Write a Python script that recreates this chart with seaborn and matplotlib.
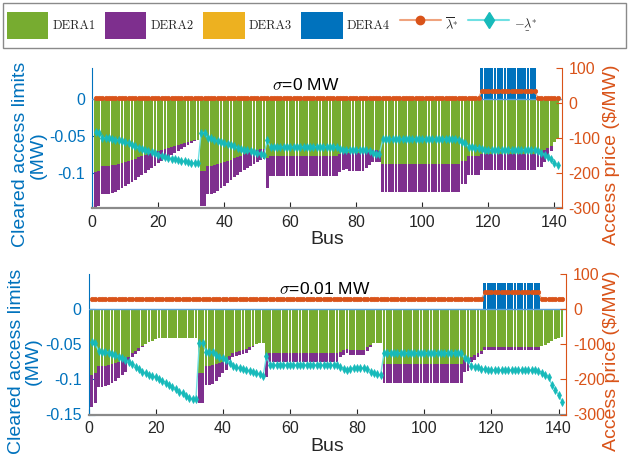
import numpy as np
import matplotlib
matplotlib.use('Agg')
import matplotlib.pyplot as plt
from matplotlib.lines import Line2D
from matplotlib.patches import Patch, Rectangle
import seaborn as sns

# bus numbers of the 141-bus feeder
bus = list(range(1, 142))

# ---- sigma = 0 MW (upper panel) ----
dera1_s0 = [
    -0.0995, -0.0973, -0.0914, -0.0909, -0.0905, -0.0900, -0.0891, -0.0878, -0.0864, -0.0850,
    -0.0837, -0.0823, -0.0810, -0.0791, -0.0778, -0.0764, -0.0746, -0.0732, -0.0719, -0.0705,
    -0.0692, -0.0678, -0.0664, -0.0651, -0.0637, -0.0624, -0.0610, -0.0596, -0.0583, -0.0569,
    -0.0560, -0.0556, -0.0982, -0.0973, -0.0909, -0.0905, -0.0896, -0.0882, -0.0868, -0.0855,
    -0.0837, -0.0823, -0.0805, -0.0787, -0.0769, -0.0751, -0.0732, -0.0714, -0.0701, -0.0692,
    -0.0682, -0.0678, -0.0800, -0.0769, -0.0769, -0.0769, -0.0769, -0.0769, -0.0769, -0.0769,
    -0.0769, -0.0769, -0.0769, -0.0769, -0.0769, -0.0769, -0.0769, -0.0769, -0.0769, -0.0769,
    -0.0769, -0.0769, -0.0769, -0.0769, -0.0746, -0.0737, -0.0732, -0.0737, -0.0737, -0.0737,
    -0.0737, -0.0737, -0.0723, -0.0701, -0.0692, -0.0692, -0.0701, -0.0885, -0.0885, -0.0885,
    -0.0885, -0.0885, -0.0885, -0.0885, -0.0885, -0.0885, -0.0885, -0.0885, -0.0885, -0.0885,
    -0.0885, -0.0885, -0.0885, -0.0885, -0.0885, -0.0885, -0.0885, -0.0885, -0.0885, -0.0885,
    -0.0885, -0.0837, -0.0837, -0.0778, -0.0778, -0.0778, -0.0778, -0.0746, -0.0746, -0.0746,
    -0.0746, -0.0746, -0.0746, -0.0746, -0.0746, -0.0746, -0.0746, -0.0746, -0.0746, -0.0746,
    -0.0746, -0.0746, -0.0746, -0.0746, -0.0723, -0.0710, -0.0692, -0.0664, -0.0633, -0.0588,
    -0.0542]
dera2_s0 = [
    -0.0499, -0.0476, -0.0376, -0.0381, -0.0381, -0.0381, -0.0367, -0.0358, -0.0345, -0.0331,
    -0.0317, -0.0304, -0.0285, -0.0272, -0.0254, -0.0236, -0.0222, -0.0205, -0.0186, -0.0168,
    -0.0149, -0.0136, -0.0123, -0.0109, -0.0095, -0.0081, -0.0068, -0.0055, -0.0041, -0.0027,
    -0.0014, -0.0004, -0.0467, -0.0476, -0.0381, -0.0385, -0.0385, -0.0372, -0.0341, -0.0322,
    -0.0308, -0.0277, -0.0258, -0.0240, -0.0226, -0.0213, -0.0205, -0.0200, -0.0181, -0.0158,
    -0.0150, -0.0136, -0.0409, -0.0272, -0.0272, -0.0272, -0.0272, -0.0272, -0.0272, -0.0272,
    -0.0272, -0.0272, -0.0272, -0.0272, -0.0272, -0.0272, -0.0272, -0.0272, -0.0272, -0.0272,
    -0.0272, -0.0272, -0.0272, -0.0272, -0.0249, -0.0227, -0.0218, -0.0236, -0.0236, -0.0236,
    -0.0236, -0.0236, -0.0214, -0.0190, -0.0167, -0.0167, -0.0158, -0.0375, -0.0375, -0.0375,
    -0.0375, -0.0375, -0.0375, -0.0375, -0.0375, -0.0375, -0.0375, -0.0375, -0.0375, -0.0375,
    -0.0375, -0.0375, -0.0375, -0.0375, -0.0375, -0.0375, -0.0375, -0.0375, -0.0375, -0.0375,
    -0.0375, -0.0323, -0.0323, -0.0253, -0.0253, -0.0253, -0.0253, -0.0217, -0.0217, -0.0217,
    -0.0217, -0.0217, -0.0217, -0.0217, -0.0217, -0.0217, -0.0217, -0.0217, -0.0217, -0.0217,
    -0.0217, -0.0217, -0.0217, -0.0217, -0.0195, -0.0208, -0.0167, -0.0127, -0.0077, 0.0,
    0.0]
dera4_s0 = [0.0] * 117 + [0.045] * 17 + [0.0] * 7
lam_up_s0 = [15] * 117 + [35] * 17 + [15] * 7
lam_dn_s0 = [
    -81.6, -84.4, -100.4, -100.4, -101.3, -103.2, -105.1, -107.0, -109.8, -111.6,
    -114.5, -119.2, -123.9, -127.6, -131.4, -135.1, -137.9, -140.8, -143.6, -147.3,
    -150.2, -153.0, -155.8, -158.6, -161.4, -163.3, -165.2, -167.1, -168.9, -170.8,
    -171.7, -171.7, -84.4, -84.4, -100.4, -101.3, -105.1, -109.8, -111.6, -114.5,
    -116.3, -119.2, -123.9, -128.5, -131.4, -133.3, -135.1, -137.9, -140.8, -142.7,
    -144.5, -147.3, -107.0, -125.7, -125.7, -125.7, -125.7, -125.7, -125.7, -125.7,
    -125.7, -125.7, -125.7, -125.7, -125.7, -125.7, -125.7, -125.7, -125.7, -125.7,
    -125.7, -125.7, -125.7, -125.7, -131.4, -134.2, -134.2, -134.2, -134.2, -134.2,
    -134.2, -134.2, -134.2, -137.9, -142.7, -144.5, -144.5, -104.0, -104.0, -104.0,
    -104.0, -104.0, -104.0, -104.0, -104.0, -104.0, -104.0, -104.0, -104.0, -104.0,
    -104.0, -104.0, -104.0, -104.0, -104.0, -104.0, -104.0, -104.0, -104.0, -104.0,
    -105.1, -112.6, -114.5, -125.7, -126.7, -127.6, -128.5, -131.4, -133.3, -133.3,
    -133.3, -133.3, -133.3, -133.3, -133.3, -133.3, -133.3, -133.3, -133.3, -133.3,
    -133.3, -133.3, -133.3, -135.1, -137.9, -142.7, -147.3, -153.9, -159.5, -172.6,
    -178.3]

# ---- sigma = 0.01 MW (lower panel) ----
dera1_s1 = [
    -0.0937, -0.0914, -0.0810, -0.0810, -0.0805, -0.0795, -0.0781, -0.0762, -0.0748, -0.0734,
    -0.0715, -0.0677, -0.0630, -0.0592, -0.0559, -0.0525, -0.0497, -0.0473, -0.0450, -0.0431,
    -0.0417, -0.0417, -0.0417, -0.0417, -0.0417, -0.0417, -0.0417, -0.0417, -0.0417, -0.0417,
    -0.0417, -0.0417, -0.0914, -0.0914, -0.0810, -0.0805, -0.0795, -0.0781, -0.0772, -0.0748,
    -0.0724, -0.0667, -0.0630, -0.0611, -0.0596, -0.0582, -0.0568, -0.0544, -0.0525, -0.0502,
    -0.0487, -0.0478, -0.0653, -0.0630, -0.0630, -0.0630, -0.0630, -0.0630, -0.0630, -0.0630,
    -0.0630, -0.0630, -0.0630, -0.0630, -0.0630, -0.0630, -0.0630, -0.0630, -0.0630, -0.0630,
    -0.0630, -0.0630, -0.0630, -0.0630, -0.0606, -0.0582, -0.0573, -0.0582, -0.0582, -0.0582,
    -0.0582, -0.0582, -0.0544, -0.0516, -0.0487, -0.0487, -0.0487, -0.0781, -0.0781, -0.0781,
    -0.0781, -0.0781, -0.0781, -0.0781, -0.0781, -0.0781, -0.0781, -0.0781, -0.0781, -0.0781,
    -0.0781, -0.0781, -0.0781, -0.0781, -0.0781, -0.0781, -0.0781, -0.0781, -0.0781, -0.0781,
    -0.0781, -0.0724, -0.0715, -0.0677, -0.0653, -0.0620, -0.0592, -0.0544, -0.0544, -0.0544,
    -0.0544, -0.0544, -0.0544, -0.0544, -0.0544, -0.0544, -0.0544, -0.0544, -0.0544, -0.0544,
    -0.0544, -0.0544, -0.0544, -0.0544, -0.0526, -0.0511, -0.0487, -0.0450, -0.0426, -0.0407,
    -0.0402]
dera2_s1 = [
    -0.0460, -0.0416, -0.0303, -0.0293, -0.0289, -0.0284, -0.0275, -0.0256, -0.0237, -0.0203,
    -0.0175, -0.0057, -0.0056, -0.0047, -0.0033, -0.0019, 0.0, 0.0, 0.0, 0.0,
    0.0, 0.0, 0.0, 0.0, 0.0, 0.0, 0.0, 0.0, 0.0, 0.0,
    0.0, 0.0, -0.0416, -0.0416, -0.0269, -0.0274, -0.0270, -0.0237, -0.0199, -0.0166,
    -0.0142, -0.0057, -0.0056, -0.0056, -0.0057, -0.0057, -0.0052, -0.0038, -0.0019, 0.0,
    0.0, 0.0, -0.0318, -0.0118, -0.0118, -0.0118, -0.0118, -0.0118, -0.0118, -0.0118,
    -0.0118, -0.0118, -0.0118, -0.0118, -0.0118, -0.0118, -0.0118, -0.0118, -0.0118, -0.0118,
    -0.0118, -0.0118, -0.0118, -0.0118, -0.0071, -0.0071, -0.0057, -0.0071, -0.0071, -0.0071,
    -0.0071, -0.0071, -0.0048, -0.0028, 0.0, 0.0, 0.0, -0.0266, -0.0266, -0.0266,
    -0.0266, -0.0266, -0.0266, -0.0266, -0.0266, -0.0266, -0.0266, -0.0266, -0.0266, -0.0266,
    -0.0266, -0.0266, -0.0266, -0.0266, -0.0266, -0.0266, -0.0266, -0.0266, -0.0266, -0.0266,
    -0.0266, -0.0166, -0.0160, -0.0080, -0.0070, -0.0060, -0.0050, -0.0038, -0.0038, -0.0038,
    -0.0038, -0.0038, -0.0038, -0.0038, -0.0038, -0.0038, -0.0038, -0.0038, -0.0038, -0.0038,
    -0.0038, -0.0038, -0.0038, -0.0038, 0.0, 0.0, 0.0, 0.0, 0.0, 0.0,
    0.0]
dera4_s1 = [0.0] * 117 + [0.037] * 17 + [0.0] * 7
lam_up_s1 = [27.5] * 117 + [47] * 17 + [27.5] * 7
lam_dn_s1 = [
    -92.8, -97.5, -119.3, -121.2, -121.2, -124.0, -127.8, -130.7, -135.4, -140.1,
    -144.9, -149.6, -156.2, -163.8, -170.5, -178.0, -182.8, -187.5, -190.3, -194.1,
    -199.8, -203.6, -209.3, -215.9, -222.5, -228.2, -234.8, -239.6, -247.2, -253.8,
    -254.7, -254.7, -97.5, -97.5, -121.2, -122.1, -123.1, -130.7, -135.4, -140.1,
    -144.9, -154.3, -161.9, -165.7, -168.6, -170.5, -173.3, -175.2, -178.0, -182.8,
    -184.7, -190.3, -133.5, -159.1, -160.0, -160.0, -160.0, -160.0, -160.0, -160.0,
    -160.0, -160.0, -160.0, -160.0, -160.0, -160.0, -160.0, -160.0, -160.0, -160.0,
    -160.0, -160.0, -160.0, -160.0, -165.7, -169.5, -173.3, -169.5, -166.7, -166.7,
    -166.7, -166.7, -171.4, -178.0, -182.8, -184.7, -187.5, -125.0, -125.0, -125.0,
    -125.0, -125.0, -125.0, -125.0, -125.0, -125.0, -125.0, -125.0, -125.0, -125.0,
    -125.0, -125.0, -125.0, -125.0, -125.0, -125.0, -125.0, -125.0, -125.0, -125.0,
    -125.0, -140.1, -145.0, -161.6, -163.6, -165.5, -169.3, -171.2, -173.1, -173.1,
    -173.1, -173.1, -173.1, -173.1, -173.1, -173.1, -173.1, -173.1, -173.1, -173.1,
    -173.1, -173.1, -173.1, -176.0, -180.7, -187.3, -193.9, -215.7, -229.9, -244.1,
    -263.1]

# colours (MATLAB default palette)
green = '#77AC30'
purple = '#7E2F8E'
yellow = '#EDB120'
blue = '#0072BD'
orange = '#D95319'
orange_line = '#EFA37E'
teal = '#17BABA'
teal_line = '#6FE0E3'

sns.set_theme(style='white')
plt.rcParams['font.family'] = ['Liberation Sans', 'DejaVu Sans']
plt.rcParams['mathtext.fontset'] = 'cm'
plt.rcParams['axes.unicode_minus'] = False

W, H = 629, 468
fig = plt.figure(figsize=(W / 100, H / 100), dpi=100)


def px_rect(left, top, right, bottom):
    # pixel box -> figure fraction
    return [left / W, 1 - bottom / H, (right - left) / W, (bottom - top) / H]


def draw_panel(rect, d1, d2, d4, lam_up, lam_dn, ylim_left, yticks_left, sigma_label,
               text_pos, lab_left_x, lab_right_x):
    ax = fig.add_axes(rect)
    total = np.array(d1) + np.array(d2)
    bar_kw = dict(native_scale=True, width=0.85, errorbar=None, saturation=1,
                  linewidth=0, ax=ax)
    # stacked negative bars: purple drawn to the total, green on top of it
    sns.barplot(x=bus, y=total, color=purple, **bar_kw)
    sns.barplot(x=bus, y=d1, color=green, **bar_kw)
    sns.barplot(x=bus, y=d4, color=blue, **bar_kw)
    ax.axhline(0, color='#5AA2DA', lw=1, zorder=3)

    ax.set_xlim(0, 142.2)
    ax.set_ylim(*ylim_left)
    ax.set_xticks(range(0, 141, 20))
    ax.set_yticks(yticks_left, labels=[f'{v:g}' for v in yticks_left])
    ax.tick_params(axis='x', bottom=True, direction='in', length=4, width=0.8,
                   color='#262626', labelcolor='#262626', labelsize=11.5, pad=5)
    ax.tick_params(axis='y', left=True, direction='in', length=4, width=0.8,
                   color=blue, labelcolor=blue, labelsize=11.5, pad=5)
    for s in ['top', 'right']:
        ax.spines[s].set_visible(False)
    ax.spines['left'].set_color(blue)
    ax.spines['left'].set_linewidth(0.8)
    ax.spines['bottom'].set_color('#8a8a8a')
    ax.spines['bottom'].set_linewidth(1.6)
    ax.set_xlabel('Bus', fontsize=14, color='#262626', labelpad=1)
    ax.set_ylabel('Cleared access limits\n(MW)', fontsize=14, color=blue,
                  linespacing=1.0)
    ax.yaxis.set_label_coords(lab_left_x, 0.38)

    ax2 = ax.twinx()
    sns.lineplot(x=bus, y=lam_up, ax=ax2, color=orange_line, lw=1, marker='o',
                 markersize=3.2, markerfacecolor=orange, markeredgecolor=orange,
                 markeredgewidth=0.5, legend=False)
    sns.lineplot(x=bus, y=lam_dn, ax=ax2, color=teal_line, lw=1, marker='d',
                 markersize=4, markerfacecolor=teal, markeredgecolor=teal,
                 markeredgewidth=0.5, legend=False)
    ax2.set_ylim(-300, 100)
    ax2.set_yticks([-300, -200, -100, 0, 100])
    ax2.tick_params(axis='y', right=True, direction='in', length=4, width=0.8,
                    color=orange, labelcolor=orange, labelsize=11.5, pad=5)
    for s in ['top', 'left', 'bottom']:
        ax2.spines[s].set_visible(False)
    ax2.spines['right'].set_color(orange)
    ax2.spines['right'].set_linewidth(0.8)
    ax2.set_ylabel('Access price ($/MW)', fontsize=14, color=orange)
    ax2.yaxis.set_label_coords(lab_right_x, 0.38)

    ax.text(text_pos[0], text_pos[1], sigma_label, transform=ax.transAxes,
            ha='center', va='center', fontsize=12.5, color='black', zorder=10)
    return ax, ax2


draw_panel(px_rect(92.3, 68, 561.7, 208), dera1_s0, dera2_s0, dera4_s0,
           lam_up_s0, lam_dn_s0, (-0.148, 0.042), [-0.1, -0.05, 0],
           r'$\sigma$=0 MW', (0.455, 0.875), -0.098, 1.088)
draw_panel(px_rect(88.5, 273.8, 566, 414.5), dera1_s1, dera2_s1, dera4_s1,
           lam_up_s1, lam_dn_s1, (-0.15, 0.05), [-0.15, -0.1, -0.05, 0],
           r'$\sigma$=0.01 MW', (0.495, 0.89), -0.097, 1.078)

# legend across the top, in its own box
handles = [
    Patch(facecolor=green, edgecolor='none'),
    Patch(facecolor=purple, edgecolor='none'),
    Patch(facecolor=yellow, edgecolor='none'),
    Patch(facecolor=blue, edgecolor='none'),
    Line2D([], [], color=orange_line, lw=1.5, marker='o', markersize=6,
           markerfacecolor=orange, markeredgecolor=orange),
    Line2D([], [], color=teal_line, lw=1.5, marker='d', markersize=8,
           markerfacecolor=teal, markeredgecolor=teal),
]
labels = ['DERA1', 'DERA2', 'DERA3', 'DERA4',
          r'$\overline{\lambda}^{*}$', r'$-\underset{\_}{\lambda}^{*}$']
fig.legend(handles, labels, loc='center left', bbox_to_anchor=(7 / W, 1 - 25.5 / H),
           ncol=6, frameon=False, prop={'family': 'cmr10', 'size': 9},
           handlelength=3.3, handleheight=3.0, handletextpad=0.35,
           columnspacing=0.75, borderaxespad=0, borderpad=0)
fig.add_artist(Rectangle((3 / W, 1 - 48 / H), 623 / W, 45 / H, transform=fig.transFigure,
                         fill=False, edgecolor='#8a8a8a', lw=1))

fig.savefig('out.png', dpi=100)
